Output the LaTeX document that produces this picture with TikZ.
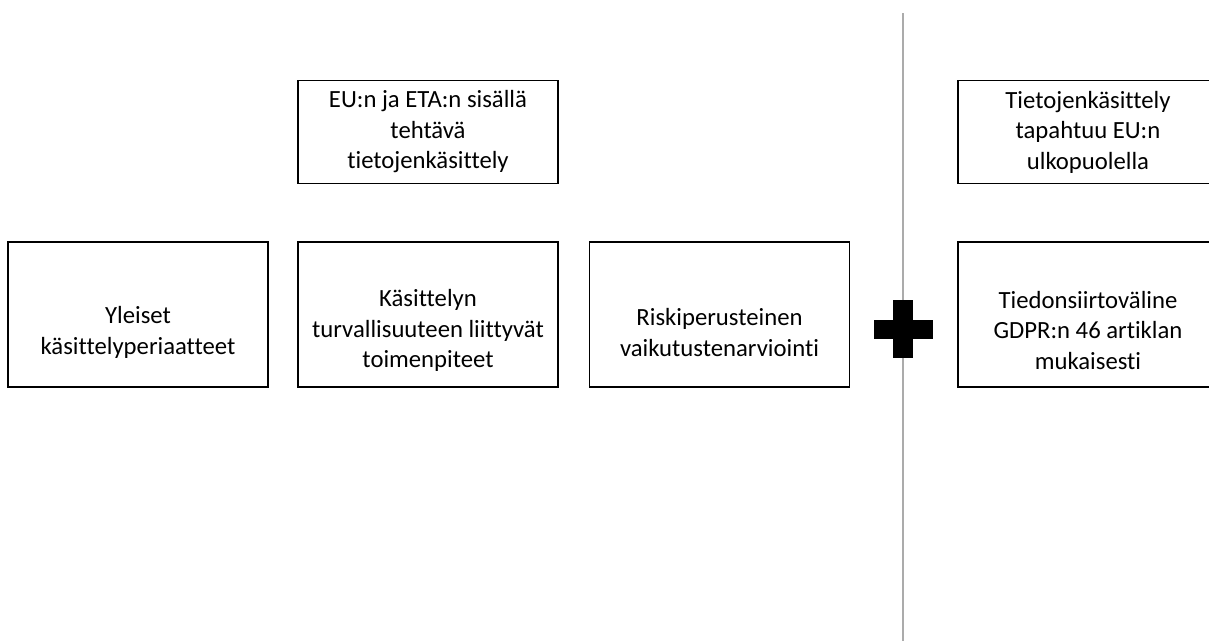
\documentclass[tikz,border=0pt]{standalone}
\usepackage{fontspec}
\setmainfont{Carlito}[Ligatures=NoCommon]
\usepackage{tikz}

\tikzset{
  box/.style={draw, line width=1.4pt, minimum width=260pt, minimum height=145pt, inner sep=0pt},
  topbox/.style={box, minimum height=103pt},
  boxtext/.style={align=center, inner sep=0pt, font=\fontsize{24.7}{30.5}\selectfont}
}

\begin{document}
\begin{tikzpicture}[x=1pt, y=-1pt]
  \useasboundingbox (0,0) rectangle (1209,641);
  \fill[white] (0,0) rectangle (1209,641);
  \node[topbox, boxtext] (T1) at (428, 132) {EU:n ja ETA:n sisällä\\tehtävä\\tietojenkäsittely};
  \node[topbox, boxtext] (T2) at (1088, 132) {Tietojenkäsittely\\tapahtuu EU:n\\ulkopuolella};
  \node[box] (A) at (138, 314.5) {};
  \node[box] (B) at (428, 314.5) {};
  \node[box] (C) at (719.5, 314.5) {};
  \node[box] (D) at (1088, 314.5) {};
  \node[boxtext] (At) at ([yshift=-18pt]A.center) {Yleiset\\käsittelyperiaatteet};
  \node[boxtext] (Bt) at ([yshift=-16pt]B.center) {Käsittelyn\\turvallisuuteen liittyvät\\toimenpiteet};
  \node[boxtext] (Ct) at ([yshift=-18pt]C.center) {Riskiperusteinen\\vaikutustenarviointi};
  \node[boxtext] (Dt) at ([yshift=-16pt]D.center) {Tiedonsiirtoväline\\GDPR:n 46 artiklan\\mukaisesti};
  % raja
  \coordinate (L1) at (903, 13);
  \coordinate (L2) at (903, 641);
  \draw[line width=1.6pt, black!33] (L1) -- (L2);
  % plus
  \fill (893, 300) rectangle (913, 358);
  \fill (874, 320) rectangle (933, 339);
\end{tikzpicture}
\end{document}
